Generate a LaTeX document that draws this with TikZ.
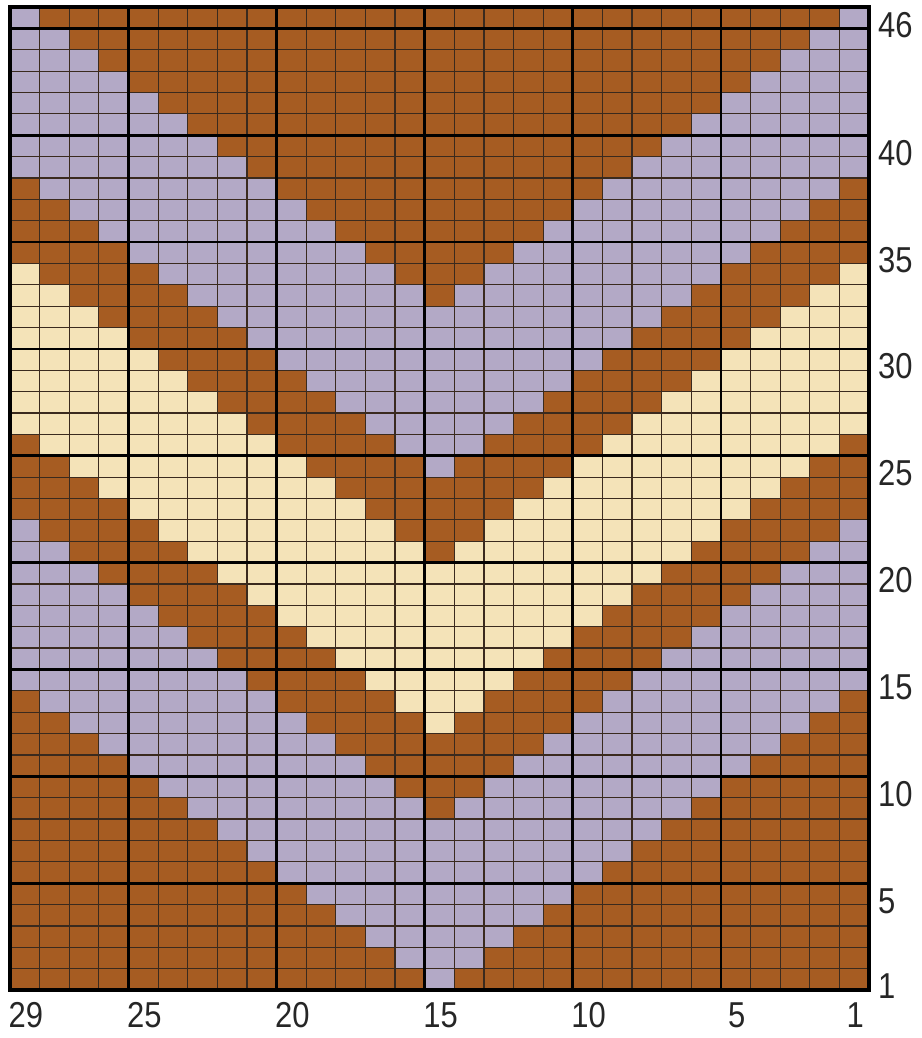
\documentclass[tikz,border=0pt]{standalone}
\usepackage{fontspec}
\setmainfont{Liberation Sans}
\definecolor{br}{HTML}{A65C22}
\definecolor{lav}{HTML}{B3A9C6}
\definecolor{crm}{HTML}{F4E3B8}
\definecolor{thinline}{HTML}{3A2A1E}
\tikzset{
  thingrid/.style={draw=thinline, line width=1.2pt},
  thickgrid/.style={draw=black, line width=2.8pt},
  border/.style={draw=black, line width=4pt},
  lbl/.style={font=\fontsize{36}{36}\selectfont, text=black!85, inner sep=0pt, xscale=0.86}
}
\begin{document}
\begin{tikzpicture}[x=1pt,y=-1pt]
\useasboundingbox (0,0) rectangle (921,1038);
\fill[white] (0,0) rectangle (921,1038);
\def\L{10}\def\R{869}\def\T{7}\def\B{990}
\pgfmathsetmacro\cw{(\R-\L)/29}
\pgfmathsetmacro\rh{(\B-\T)/46}
% cells
\foreach \r in {1,...,46}{
  \foreach \c in {1,...,29}{
    \pgfmathtruncatemacro\s{\r-abs(\c-15)}
    \ifnum\s<1 \def\col{br}\else\ifnum\s<9 \def\col{lav}\else\ifnum\s<13 \def\col{br}\else\ifnum\s<21 \def\col{crm}\else\ifnum\s<25 \def\col{br}\else\ifnum\s<33 \def\col{lav}\else\def\col{br}\fi\fi\fi\fi\fi\fi
    \fill[\col] ({\R-\c*\cw-0.3},{\B-\r*\rh-0.3}) rectangle ({\R-(\c-1)*\cw+0.3},{\B-(\r-1)*\rh+0.3});
  }
}
% thin grid
\foreach \i in {1,...,28}{
  \draw[thingrid] ({\R-\i*\cw},\T) -- ({\R-\i*\cw},\B);
}
\foreach \j in {1,...,45}{
  \draw[thingrid] (\L,{\B-\j*\rh}) -- (\R,{\B-\j*\rh});
}
% thick grid
\foreach \i in {5,10,15,20,25}{
  \draw[thickgrid] ({\R-\i*\cw},\T) -- ({\R-\i*\cw},\B);
}
\foreach \j in {5,10,...,45}{
  \draw[thickgrid] (\L,{\B-\j*\rh}) -- (\R,{\B-\j*\rh});
}
\draw[border] (\L,\T) rectangle (\R,\B);
% row labels
\foreach \n in {1,5,10,15,20,25,30,35,40,46}{
  \node[lbl, anchor=west] (row\n) at (878,{\B-(\n-0.5)*\rh+7}) {\n};
}
% column labels
\foreach \n in {29,25,20,15,10,5,1}{
  \node[lbl] (col\n) at ({\R-(\n-0.5)*\cw+1},1015) {\n};
}
\end{tikzpicture}
\end{document}
